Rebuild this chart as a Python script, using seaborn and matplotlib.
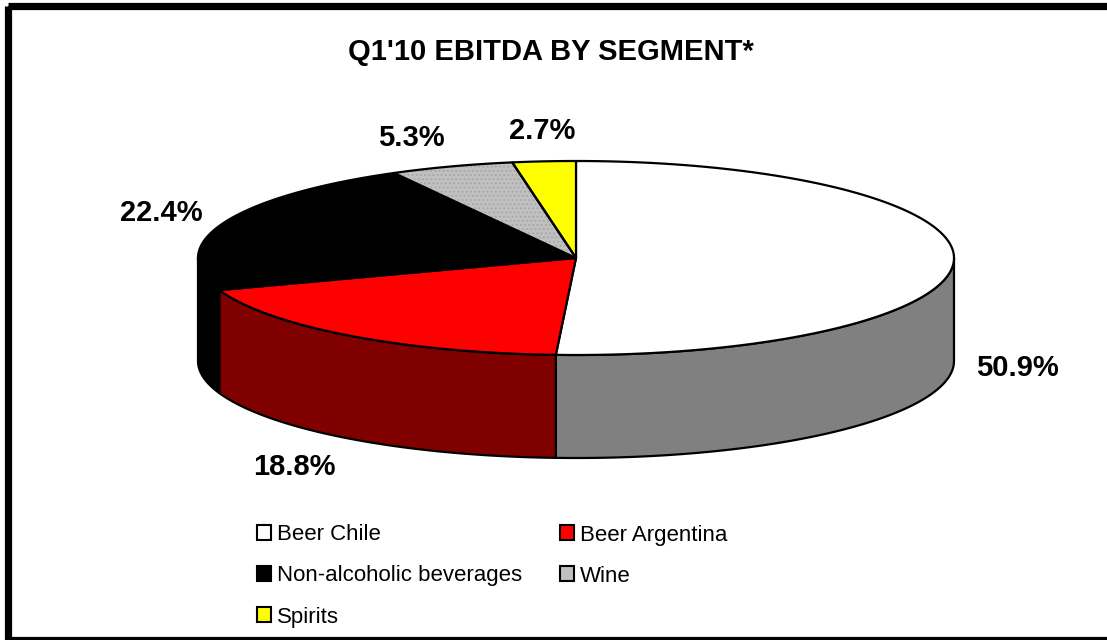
import numpy as np
import matplotlib
matplotlib.use("Agg")
import matplotlib.pyplot as plt
from matplotlib.patches import Polygon, Rectangle, Patch
import seaborn as sns

# ---------------- data ----------------
title = "Q1'10 EBITDA BY SEGMENT*"
segments = ["Beer Chile", "Beer Argentina", "Non-alcoholic beverages", "Wine", "Spirits"]
shares = [50.9, 18.8, 22.4, 5.3, 2.7]
top_colors = ["#FFFFFF", "#FF0000", "#000000", "#C0C0C0", "#FFFF00"]
side_colors = ["#808080", "#800000", "#000000", "#808080", "#808000"]
label_texts = [f"{v:.1f}%" for v in shares]

# ---------------- style ----------------
sns.set_theme(style="white")
plt.rcParams['font.family'] = ['Liberation Sans', 'DejaVu Sans']
plt.rcParams['hatch.linewidth'] = 0.8
plt.rcParams['text.color'] = 'black'

W, H = 1107, 640
fig = plt.figure(figsize=(W / 100, H / 100), dpi=100)
ax = fig.add_axes([0, 0, 1, 1])
ax.set_xlim(0, W)
ax.set_ylim(H, 0)
ax.axis('off')

# pie geometry (layout)
cx, cy, a, b, depth = 576, 258, 378, 97, 103


def ell(t_deg, dy=0.0, ra=0.0, rb=0.0):
    t = np.radians(t_deg)
    return cx + (a + ra) * np.cos(t), cy - (b + rb) * np.sin(t) + dy


total = float(sum(shares))
cum = np.concatenate([[0.0], np.cumsum(shares)]) / total
starts = 90 - 360 * cum[:-1]
ends = 90 - 360 * cum[1:]

# side walls (front half only)
for i in range(len(shares)):
    hi, lo = starts[i], ends[i]
    for k in (-1, 0):
        f_lo, f_hi = -180 + 360 * k, 0 + 360 * k
        s_lo, s_hi = max(lo, f_lo), min(hi, f_hi)
        if s_hi - s_lo <= 0.01:
            continue
        ts = np.linspace(s_lo, s_hi, 120)
        top = [ell(t) for t in ts]
        bot = [ell(t, dy=depth) for t in ts[::-1]]
        poly = Polygon(top + bot, closed=True, facecolor=side_colors[i],
                       edgecolor="black", linewidth=1.6, zorder=1,
                       joinstyle="round")
        ax.add_patch(poly)

# top faces
for i in range(len(shares)):
    hi, lo = starts[i], ends[i]
    ts = np.linspace(hi, lo, max(int(abs(hi - lo)) * 2, 10))
    pts = [(cx, cy)] + [ell(t) for t in ts]
    if segments[i] == "Wine":
        ax.add_patch(Polygon(pts, closed=True, facecolor=top_colors[i],
                             edgecolor="#A6A6A6", linewidth=0, hatch="....",
                             zorder=2))
        ax.add_patch(Polygon(pts, closed=True, fill=False, edgecolor="black",
                             linewidth=1.6, zorder=2.1, joinstyle="round"))
    else:
        ax.add_patch(Polygon(pts, closed=True, facecolor=top_colors[i],
                             edgecolor="black", linewidth=1.6, zorder=2,
                             joinstyle="round"))

# data labels
Rx, Ry = 22, 30
for i in range(len(shares)):
    mid = (starts[i] + ends[i]) / 2
    c, s = np.cos(np.radians(mid)), np.sin(np.radians(mid))
    x, y = ell(mid, ra=Rx, rb=Ry)
    if s < 0:
        y += depth + 4
    ha = "left" if c > 0.3 else ("right" if c < -0.3 else "center")
    ax.text(x, y, label_texts[i], ha=ha, va="center", fontsize=21,
            fontweight="bold", color="black", zorder=5)

# title
ax.text(W / 2 - 3, 52, title, ha="center", va="center", fontsize=21,
        fontweight="bold", color="black")

# legend (row-wise order in two columns)
handles = [Patch(facecolor=top_colors[i], edgecolor="black", linewidth=1.5,
                 label=segments[i]) for i in range(len(segments))]
order = [0, 2, 4, 1, 3]
leg = ax.legend([handles[i] for i in order], [segments[i] for i in order],
                ncol=2, loc="center", bbox_to_anchor=(492 / W, 1 - 576 / H),
                frameon=False, fontsize=16, handlelength=0.65,
                handleheight=0.65, handletextpad=0.25, columnspacing=1.7,
                labelspacing=0.9, borderpad=0, labelcolor="black")

# outer frame
ax.add_patch(Rectangle((8, 5.5), 1300, 634, fill=False, edgecolor="black",
                       linewidth=5.2, clip_on=False, zorder=10))

fig.savefig("out.png", dpi=100)
